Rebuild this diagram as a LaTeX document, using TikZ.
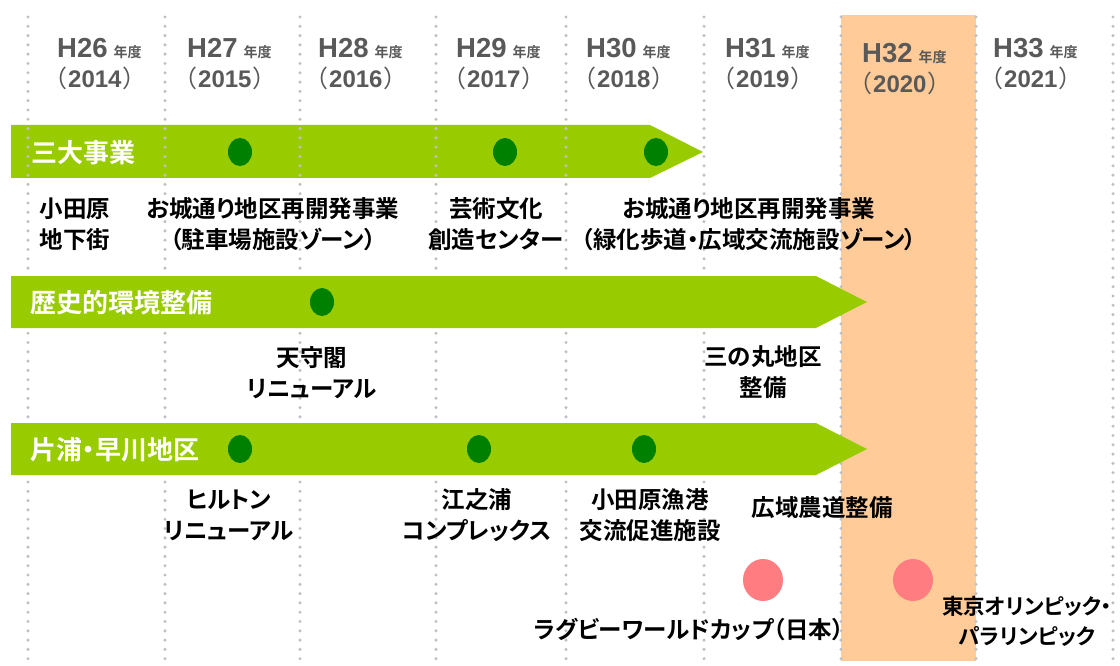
\documentclass[tikz,border=0pt]{standalone}
\usepackage{fontspec}
\usetikzlibrary{shapes.geometric}
\setmainfont{Noto Sans CJK JP}[BoldFont={Noto Sans CJK JP Bold},RawFeature=+palt]
\newfontfamily\lat{Liberation Sans}
\definecolor{bandg}{HTML}{99CC00}
\definecolor{dotg}{HTML}{008000}
\definecolor{pinkc}{HTML}{FF7C80}
\definecolor{orng}{HTML}{FFCC99}
\definecolor{yrc}{HTML}{595959}
\definecolor{vline}{HTML}{C0C0C0}
\tikzset{
  vdots/.style={line width=3.4pt, line cap=round, dash pattern=on 0pt off 9.3pt, draw=vline},
  gdot/.style={ellipse, fill=dotg, minimum width=24pt, minimum height=28pt, inner sep=0pt},
  pdot/.style={ellipse, fill=pinkc, minimum width=40pt, minimum height=42pt, inner sep=0pt},
  lab/.style={font=\bfseries\fontsize{23.5}{31}\selectfont, align=center, inner sep=0pt, text=black},
  blab/.style={font=\bfseries\fontsize{26}{30}\selectfont, text=white, anchor=west, inner sep=0pt},
  yh/.style={anchor=base west, inner sep=0pt, text=yrc, font=\lat\bfseries\fontsize{27.5}{27}\selectfont},
  yp/.style={anchor=base west, inner sep=0pt, text=yrc, font=\fontsize{24}{24}\selectfont},
}
\begin{document}
\begin{tikzpicture}[x=1pt,y=-1pt]
\useasboundingbox (0,0) rectangle (1120,666);
% highlighted year
\fill[orng] (841,15) rectangle (976,661);
% band 1
\fill[bandg] (11,125) -- (650,125) -- (703,152) -- (650,178) -- (11,178) -- cycle;
% dotted column lines
\foreach \x in {28,165,300,436,566,704,841,976,1113}
  \draw[vdots] (\x,17) -- (\x,661);
% bands 2 and 3
\fill[bandg] (11,276) -- (816,276) -- (867,302) -- (816,328) -- (11,328) -- cycle;
\fill[bandg] (11,423) -- (816,423) -- (867,449) -- (816,475) -- (11,475) -- cycle;
% years
\foreach \x/\h/\yy/\d in {57/26/2014/0, 187/27/2015/0, 318/28/2016/0, 456/29/2017/0, 586/30/2018/0, 725/31/2019/0, 862/32/2020/5, 993/33/2021/0} {
  \node[yh] (h\h) at (\x,58+\d) {H\h\hspace{6pt}{\normalfont\bfseries\fontsize{14}{14}\selectfont 年度}};
  \node[yp] (p\h) at (\x-3,88+\d) {（\hspace{2pt}{\lat\bfseries \yy}\hspace{2pt}）};
}
% band labels
\node[blab] (b1) at (31,153) {三大事業};
\node[blab] (b2) at (30,303) {歴史的環境整備};
\node[blab] (b3) at (30,450) {片浦・早川地区};
% milestones
\node[gdot] (g1) at (240,152) {};
\node[gdot] (g2) at (505,152) {};
\node[gdot] (g3) at (656,152) {};
\node[gdot] (g4) at (322,302) {};
\node[gdot] (g5) at (240,449) {};
\node[gdot] (g6) at (479,449) {};
\node[gdot] (g7) at (644,449) {};
\node[pdot] (r1) at (763,580) {};
\node[pdot] (r2) at (913,580) {};
% labels
\node[lab] (t1) at (75,224.5) {小田原\\地下街};
\node[lab] (t2) at (273,224.5) {お城通り地区再開発事業\\（駐車場施設ゾーン）};
\node[lab] (t3) at (496,224.5) {芸術文化\\創造センター};
\node[lab] (t4) at (749,224.5) {お城通り地区再開発事業\\（緑化歩道・広域交流施設ゾーン）};
\node[lab] (t5) at (312,372.5) {天守閣\\リニューアル};
\node[lab] (t6) at (763,372.5) {三の丸地区\\整備};
\node[lab] (t7) at (229,515.5) {ヒルトン\\リニューアル};
\node[lab] (t8) at (477,515.5) {江之浦\\コンプレックス};
\node[lab] (t9) at (650,515.5) {小田原漁港\\交流促進施設};
\node[lab] (t10) at (822,508) {広域農道整備};
\node[lab] (t11) at (689,630) {ラグビーワールドカップ（日本）};
\node[lab, font=\bfseries\fontsize{21.5}{30}\selectfont] (t12) at (1027,621) {東京オリンピック・\\パラリンピック};
\end{tikzpicture}
\end{document}
